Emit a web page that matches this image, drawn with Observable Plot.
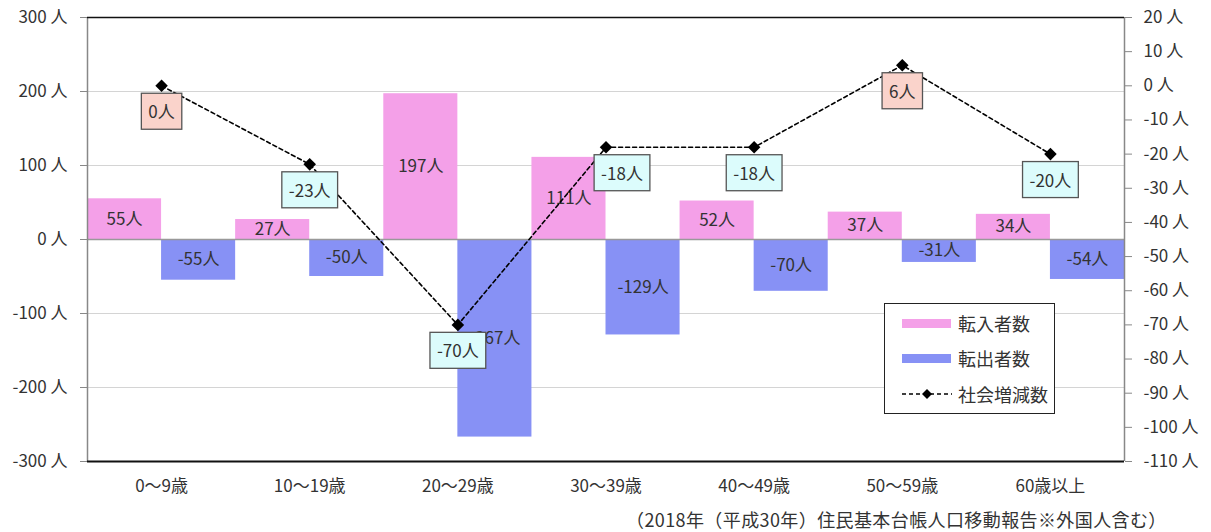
<!DOCTYPE html>
<html>
<head>
<meta charset="utf-8">
<script src="https://cdn.jsdelivr.net/npm/d3@7"></script>
<script src="https://cdn.jsdelivr.net/npm/@observablehq/plot@0.6"></script>
<style>
  html, body { margin: 0; padding: 0; background: #fff; }
  body { width: 1211px; height: 532px; position: relative; overflow: hidden; font-family: "Noto Sans CJK JP", "Noto Sans", sans-serif; color: #333; }
  #chart { position: absolute; left: 0; top: 0; }
  #legend { position: absolute; left: 884px; top: 303px; width: 169px; height: 109px; border: 1.5px solid #222; background: #fff; font-size: 18px; color: #333; }
  .li { position: absolute; left: 0; height: 24px; display: flex; align-items: center; white-space: nowrap; width: 169px; }
  .sw { width: 49px; height: 9px; margin-left: 17px; margin-right: 7px; flex: none; }
  #caption { position: absolute; left: 626px; top: 506px; font-size: 18px; letter-spacing: 0.4px; color: #333; white-space: nowrap; }
</style>
</head>
<body>
<div id="chart"></div>
<div id="legend">
  <div class="li" style="top:7px"><div class="sw" style="background:#F4A0E8"></div>転入者数</div>
  <div class="li" style="top:42px"><div class="sw" style="background:#8791F5"></div>転出者数</div>
  <div class="li" style="top:78px"><svg width="52" height="14" style="margin-left:16px;margin-right:5px;flex:none"><line x1="1" y1="7" x2="51" y2="7" stroke="#000" stroke-width="1.5" stroke-dasharray="4,3"/><path d="M26,2 L31,7 L26,12 L21,7Z" fill="#000"/></svg>社会増減数</div>
</div>
<div id="caption">（2018年（平成30年）住民基本台帳人口移動報告※外国人含む）</div>
<script>
const categories = ["0〜9歳", "10〜19歳", "20〜29歳", "30〜39歳", "40〜49歳", "50〜59歳", "60歳以上"];
const inflow = [55, 27, 197, 111, 52, 37, 34];
const outflow = [-55, -50, -267, -129, -70, -31, -54];
const net = [0, -23, -70, -18, -18, 6, -20];
const leftTicks = [-300, -200, -100, 0, 100, 200, 300];
const rightTicks = [20, 10, 0, -10, -20, -30, -40, -50, -60, -70, -80, -90, -100, -110];

// map right-axis (net) values onto the left-axis scale
const toLeft = v => -300 + (v + 110) * 600 / 130;
const fromLeft = y => (y + 300) * 130 / 600 - 110;

const inData = inflow.map((v, i) => ({i, v}));
const outData = outflow.map((v, i) => ({i, v}));
const netData = net.map((v, i) => ({i, v, y: toLeft(v)}));

const FONT = "'Noto Sans CJK JP', 'Noto Sans', sans-serif";
const NETFILL = "#323232";

const chart = Plot.plot({
  width: 1211,
  height: 532,
  marginLeft: 87,
  marginRight: 87,
  marginTop: 17,
  marginBottom: 71,
  x: {domain: [-0.5, categories.length - 0.5], axis: null},
  y: {domain: [-300, 300], axis: null},
  style: {fontFamily: FONT, fontSize: "17px", color: "#333", background: "transparent"},
  marks: [
    Plot.gridY([-200, -100, 100, 200], {stroke: "#d4d4d4", strokeOpacity: 1, strokeWidth: 1.2}),
    Plot.rect(inData, {x1: d => d.i - 0.5, x2: d => d.i, y1: 0, y2: d => d.v, fill: "#F4A0E8"}),
    Plot.rect(outData, {x1: d => d.i, x2: d => d.i + 0.5, y1: 0, y2: d => d.v, fill: "#8791F5"}),
    Plot.ruleY([0], {stroke: "#999", strokeWidth: 1.5}),
    Plot.ruleX([-0.5], {stroke: "#888", strokeWidth: 1.5}),
    Plot.ruleX([categories.length - 0.5], {stroke: "#888", strokeWidth: 1.5}),
    Plot.ruleY([300], {stroke: "#111", strokeWidth: 1.5}),
    Plot.ruleY([-300], {stroke: "#111", strokeWidth: 2}),
    Plot.axisY(leftTicks, {anchor: "left", label: null, tickFormat: d => d + " 人", tickSize: 7, tickPadding: 13, stroke: "#888", fill: "#333", fontSize: 17}),
    Plot.axisY(rightTicks.map(toLeft), {anchor: "right", label: null, tickFormat: d => Math.round(fromLeft(d)) + " 人", tickSize: 7, tickPadding: 12, stroke: "#888", fill: "#333", fontSize: 17}),
    Plot.axisX(d3.range(categories.length), {anchor: "bottom", label: null, tickFormat: i => categories[i], tickSize: 0, tickPadding: 18, fill: "#333", fontSize: 17}),
    Plot.text(inData, {x: d => d.i - 0.25, y: d => d.v / 2, text: d => d.v + "人", fill: "#333", fontSize: 17}),
    Plot.text(outData, {x: d => d.i + 0.25, y: d => d.v / 2, text: d => d.v + "人", fill: "#333", fontSize: 17}),
    Plot.line(netData, {x: "i", y: "y", stroke: "#000", strokeWidth: 1.6, strokeDasharray: "4,3"}),
    Plot.dot(netData, {x: "i", y: "y", symbol: "square", rotate: 45, r: 5, fill: "#000", stroke: null}),
    Plot.text(netData.filter(d => d.i !== 3), {x: "i", y: "y", dy: 27, text: d => d.v + "人", fill: NETFILL, fontSize: 17, ariaLabel: "netlab"}),
    Plot.text(netData.filter(d => d.i === 3), {x: "i", y: "y", dy: 27, dx: 16, text: d => d.v + "人", fill: NETFILL, fontSize: 17, ariaLabel: "netlab"})
  ]
});

document.getElementById("chart").appendChild(chart);

// draw boxes behind the net-change labels
const netTexts = new Set([
  ...chart.querySelectorAll('g[aria-label="netlab"] text'),
  ...chart.querySelectorAll('g[fill="' + NETFILL + '"] text')
]);
netTexts.forEach(t => {
  const b = t.getBBox();
  const padX = 7, padY = 6;
  const r = document.createElementNS("http://www.w3.org/2000/svg", "rect");
  r.setAttribute("x", b.x - padX);
  r.setAttribute("y", b.y - padY + 1);
  r.setAttribute("width", b.width + 2 * padX);
  r.setAttribute("height", b.height + 2 * padY - 1);
  const neg = t.textContent.trim().startsWith("-");
  r.setAttribute("fill", neg ? "#DCFCFC" : "#FAD3CB");
  r.setAttribute("stroke", "#555");
  r.setAttribute("stroke-width", "1.3");
  const tr = t.getAttribute("transform");
  if (tr) r.setAttribute("transform", tr);
  t.parentNode.insertBefore(r, t);
});
</script>
</body>
</html>
